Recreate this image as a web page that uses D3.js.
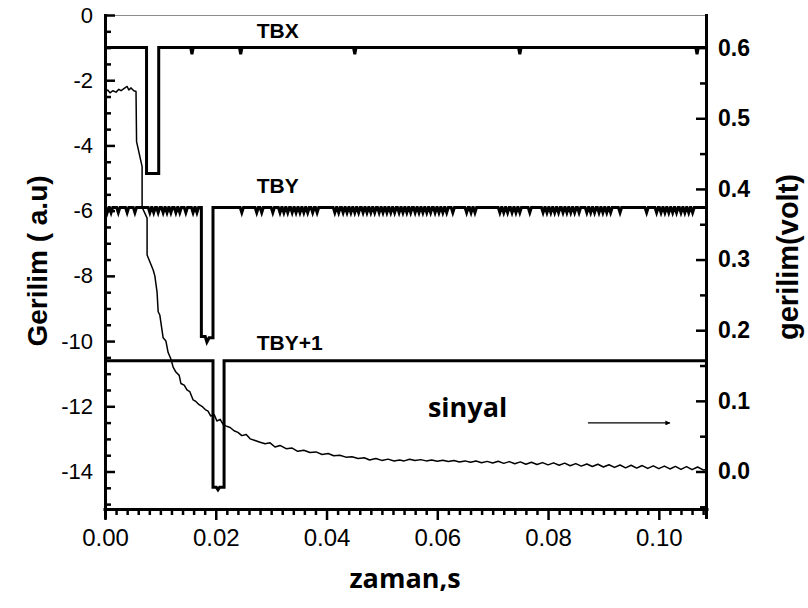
<!DOCTYPE html>
<html>
<head>
<meta charset="utf-8">
<script src="https://cdn.jsdelivr.net/npm/d3@7"></script>
<style>
  html, body { margin: 0; padding: 0; background: #fff; }
  svg { display: block; }
</style>
</head>
<body>
<svg id="chart" width="808" height="608"></svg>
<script>
// ---------------- DATA ----------------
const xTickValues = [0, 0.02, 0.04, 0.06, 0.08, 0.10];
const xTickLabels = ["0.00", "0.02", "0.04", "0.06", "0.08", "0.10"];
const leftTickValues = [0, -2, -4, -6, -8, -10, -12, -14];
const leftTickLabels = ["0", "-2", "-4", "-6", "-8", "-10", "-12", "-14"];
const rightTickValues = [0, 0.1, 0.2, 0.3, 0.4, 0.5, 0.6];
const rightTickLabels = ["0.0", "0.1", "0.2", "0.3", "0.4", "0.5", "0.6"];

// pulse trains (left axis, a.u.)
const tbxLevel = -1;
const tbxPulseT = [0.0075, 0.0097];
const tbxPulseV = [-4.86, -4.86];
const tbxDips = [0.0157, 0.0245, 0.0451, 0.0749, 0.1069];

const tbyLevel = -5.9;
const tbyPulseT = [0.0174, 0.0181, 0.0184, 0.0188, 0.0195];
const tbyPulseV = [-9.86, -9.86, -10.03, -9.9, -9.9];
const tbyDips = [
  0.0004, 0.0011, 0.0024, 0.0040, 0.0054, 0.0081, 0.0088, 0.0096, 0.0105, 0.0112,
  0.0119, 0.0128, 0.0135, 0.0146, 0.0159, 0.0166,
  0.0247, 0.0274, 0.0283, 0.0303, 0.0316, 0.0323, 0.0330, 0.0338, 0.0345, 0.0352,
  0.0359, 0.0366, 0.0375, 0.0383,
  0.0415, 0.0422, 0.0430, 0.0437, 0.0444, 0.0451, 0.0458, 0.0466, 0.0473, 0.0480,
  0.0487, 0.0495, 0.0502, 0.0509, 0.0516, 0.0523, 0.0531, 0.0538, 0.0545, 0.0552,
  0.0560, 0.0567, 0.0574, 0.0581, 0.0588, 0.0596, 0.0603, 0.0610, 0.0617,
  0.0628, 0.0653, 0.0661, 0.0668,
  0.0713, 0.0720, 0.0727, 0.0735, 0.0742, 0.0749, 0.0767,
  0.0791, 0.0798, 0.0805, 0.0812, 0.0819, 0.0827, 0.0834, 0.0841, 0.0848, 0.0856,
  0.0870, 0.0877, 0.0884, 0.0892, 0.0899, 0.0906, 0.0913, 0.0930, 0.0978,
  0.0996, 0.1004, 0.1011, 0.1018, 0.1025, 0.1032, 0.1040, 0.1047, 0.1054, 0.1061
];

const tby1Level = -10.6;
const tby1PulseT = [0.0195, 0.0201, 0.0204, 0.0207, 0.0215];
const tby1PulseV = [-14.48, -14.48, -14.56, -14.48, -14.48];
const tby1Dips = [];

// signal (right axis, volt)
const sigT = [
  0.0000, 0.0005, 0.0009, 0.0014, 0.0020, 0.0025, 0.0029, 0.0034, 0.0040, 0.0043,
  0.0047, 0.0052, 0.0056, 0.0057, 0.0067, 0.0067, 0.0076, 0.0076, 0.0087, 0.0090,
  0.0094, 0.0096, 0.0099, 0.0105, 0.0110, 0.0114, 0.0119, 0.0123, 0.0128, 0.0134,
  0.0137, 0.0143, 0.0148, 0.0153, 0.0159, 0.0164, 0.0170, 0.0175, 0.0181, 0.0186,
  0.0191, 0.0197, 0.0202, 0.0208, 0.0213, 0.0218, 0.0226, 0.0233, 0.0240, 0.0247,
  0.0255, 0.0262, 0.0271, 0.0280, 0.0289, 0.0298, 0.0307, 0.0316, 0.0327, 0.0338,
  0.0348, 0.0359, 0.0370, 0.0381, 0.0392, 0.0403, 0.0413, 0.0424, 0.0435, 0.0446,
  0.0457, 0.0468, 0.0478, 0.0489, 0.0500, 0.0511, 0.0522, 0.0532,
  0.0540, 0.0550, 0.0560, 0.0570, 0.0580, 0.0590, 0.0600, 0.0610, 0.0620, 0.0630,
  0.0640, 0.0650, 0.0660, 0.0670, 0.0680, 0.0690, 0.0700, 0.0710, 0.0720, 0.0730,
  0.0740, 0.0750, 0.0760, 0.0770, 0.0780, 0.0790, 0.0800, 0.0810, 0.0820, 0.0830,
  0.0840, 0.0850, 0.0860, 0.0870, 0.0880, 0.0890, 0.0900, 0.0910, 0.0920, 0.0930,
  0.0940, 0.0950, 0.0960, 0.0970, 0.0980, 0.0990, 0.1000, 0.1010, 0.1020, 0.1030,
  0.1040, 0.1050, 0.1060, 0.1070, 0.1080, 0.1087
];
const sigV = [
  0.5377, 0.5400, 0.5360, 0.5390, 0.5370, 0.5410, 0.5390, 0.5420, 0.5450, 0.5400,
  0.5430, 0.5390, 0.5380, 0.4670, 0.4315, 0.3740, 0.3586, 0.3064, 0.2852, 0.2769,
  0.2538, 0.2261, 0.2215, 0.1892, 0.1846, 0.1684, 0.1592, 0.1477, 0.1408, 0.1361,
  0.1246, 0.1223, 0.1154, 0.1131, 0.1015, 0.0992, 0.0946, 0.0923, 0.0877, 0.0854,
  0.0785, 0.0808, 0.0715, 0.0738, 0.0669, 0.0646, 0.0623, 0.0577, 0.0554, 0.0508,
  0.0525, 0.0462, 0.0438, 0.0415, 0.0392, 0.0406, 0.0346, 0.0369, 0.0323, 0.0332,
  0.0286, 0.0300, 0.0268, 0.0277, 0.0240, 0.0254, 0.0222, 0.0231, 0.0203, 0.0208,
  0.0185, 0.0194, 0.0162, 0.0185, 0.0157, 0.0175, 0.0148, 0.0162,
  0.0150, 0.0172, 0.0155, 0.0168, 0.0150, 0.0163, 0.0146, 0.0160, 0.0140, 0.0155,
  0.0135, 0.0150, 0.0130, 0.0148, 0.0125, 0.0143, 0.0120, 0.0145, 0.0115, 0.0140,
  0.0110, 0.0136, 0.0103, 0.0130, 0.0098, 0.0126, 0.0094, 0.0122, 0.0088, 0.0118,
  0.0082, 0.0112, 0.0076, 0.0106, 0.0070, 0.0102, 0.0064, 0.0096, 0.0058, 0.0092,
  0.0052, 0.0088, 0.0048, 0.0084, 0.0044, 0.0080, 0.0040, 0.0076, 0.0036, 0.0072,
  0.0030, 0.0068, 0.0026, 0.0064, 0.0022, 0.0030
];

// annotations
const seriesLabels = [
  { text: "TBX", t: 0.0274, v: -0.71 },
  { text: "TBY", t: 0.0274, v: -5.46 },
  { text: "TBY+1", t: 0.0274, v: -10.28 }
];
const signalLabel = { text: "sinyal", t: 0.0583, v: -12.33 };
const arrowFrom = { t: 0.0872, v: -12.51 };
const arrowTo = { t: 0.1020, v: -12.51 };

// ---------------- DRAW ----------------
const svg = d3.select("#chart");
const L = 105, R = 707, T = 15, B = 509;

const x = d3.scaleLinear().domain([0, 0.1087]).range([L, R]);
const yL = d3.scaleLinear().domain([-15.15, 0]).range([B, T]);
const yR = d3.scaleLinear().domain([-0.0531, 0.6462]).range([B, T]);

const defs = svg.append("defs");
defs.append("clipPath").attr("id", "plotclip")
  .append("rect").attr("x", L).attr("y", T - 2).attr("width", R - L).attr("height", B - T + 2);

// top frame (thin)
svg.append("line").attr("x1", L).attr("x2", R).attr("y1", T + 0.5).attr("y2", T + 0.5)
  .attr("stroke", "#8c8c8c").attr("stroke-width", 1.2);

function buildSeries(level, pulseT, pulseV, dips, depth, hw, tEnd) {
  const events = [];
  dips.forEach(d => events.push({ t: d, type: "dip" }));
  events.push({ t: pulseT[0], type: "pulse" });
  events.sort((a, b) => a.t - b.t);
  const pts = [[0, level]];
  events.forEach(e => {
    if (e.type === "dip") {
      pts.push([e.t - hw, level], [e.t, level - depth], [e.t + hw, level]);
    } else {
      pts.push([pulseT[0], level]);
      pulseT.forEach((t, i) => pts.push([t, pulseV[i]]));
      pts.push([pulseT[pulseT.length - 1], level]);
    }
  });
  pts.push([tEnd, level]);
  return pts;
}

const lineL = d3.line().x(d => x(d[0])).y(d => yL(d[1]));
const plot = svg.append("g").attr("clip-path", "url(#plotclip)");

const tEnd = x.domain()[1];
[
  buildSeries(tbxLevel, tbxPulseT, tbxPulseV, tbxDips, 0.2, 0.00022, tEnd),
  buildSeries(tbyLevel, tbyPulseT, tbyPulseV, tbyDips, 0.16, 0.0003, tEnd),
  buildSeries(tby1Level, tby1PulseT, tby1PulseV, tby1Dips, 0.2, 0.00025, tEnd)
].forEach(pts => {
  plot.append("path").attr("d", lineL(pts)).attr("fill", "none")
    .attr("stroke", "#000").attr("stroke-width", 3).attr("stroke-linejoin", "miter");
});

const sigLine = d3.line().x((d, i) => x(sigT[i])).y(d => yR(d));
plot.append("path").attr("d", sigLine(sigV)).attr("fill", "none")
  .attr("stroke", "#000").attr("stroke-width", 1.5).attr("stroke-linejoin", "round");

// ---------------- AXES ----------------
const fontArial = "'Liberation Sans', Arial, sans-serif";

// x axis
const xMinor = d3.range(0, 0.1087, 0.002).filter(v => Math.abs(v / 0.02 - Math.round(v / 0.02)) > 1e-6);
const gxMinor = svg.append("g").attr("transform", `translate(0,${B})`)
  .call(d3.axisBottom(x).tickValues(xMinor).tickSize(6).tickSizeOuter(0).tickFormat(""));
gxMinor.select(".domain").remove();
const gx = svg.append("g").attr("transform", `translate(0,${B})`)
  .call(d3.axisBottom(x).tickValues(xTickValues).tickSize(11).tickSizeOuter(0).tickPadding(9)
    .tickFormat((d, i) => xTickLabels[i]));
gx.select(".domain").attr("stroke-width", 3).attr("d", `M${L - 1.5},0.5H${R + 1.5}`);
gx.selectAll("text").attr("font-family", fontArial).attr("font-size", 24).attr("fill", "#000");

// left axis
const lMinor = d3.range(0, -15.1, -0.5).filter(v => Math.abs(v / 2 - Math.round(v / 2)) > 1e-6);
const glMinor = svg.append("g").attr("transform", `translate(${L},0)`)
  .call(d3.axisLeft(yL).tickValues(lMinor).tickSize(-6).tickSizeOuter(0).tickFormat(""));
glMinor.select(".domain").remove();
const gl = svg.append("g").attr("transform", `translate(${L},0)`)
  .call(d3.axisLeft(yL).tickValues(leftTickValues).tickSize(-10).tickSizeOuter(0).tickPadding(12)
    .tickFormat((d, i) => leftTickLabels[i]));
gl.select(".domain").attr("stroke-width", 3).attr("d", `M0.5,${T - 1}V${B + 10}`);
gl.selectAll("text").attr("font-family", fontArial).attr("font-size", 22).attr("fill", "#000");

// right axis
const rMinor = d3.range(-0.05, 0.64, 0.05).filter(v => Math.abs(v / 0.1 - Math.round(v / 0.1)) > 1e-6);
const grMinor = svg.append("g").attr("transform", `translate(${R},0)`)
  .call(d3.axisRight(yR).tickValues(rMinor).tickSize(-7).tickSizeOuter(0).tickFormat(""));
grMinor.select(".domain").remove();
const gr = svg.append("g").attr("transform", `translate(${R},0)`)
  .call(d3.axisRight(yR).tickValues(rightTickValues).tickSize(-11).tickSizeOuter(0).tickPadding(11)
    .tickFormat((d, i) => rightTickLabels[i]));
gr.select(".domain").attr("stroke-width", 3).attr("d", `M-0.5,${T - 1}V${B + 10}`);
gr.selectAll("text").attr("font-family", fontArial).attr("font-size", 23)
  .attr("font-weight", "bold").attr("fill", "#000");

svg.selectAll(".tick line").attr("stroke-width", 2.5).attr("stroke", "#000");

// ---------------- TITLES & LABELS ----------------
svg.append("text").attr("x", 405).attr("y", 588).attr("text-anchor", "middle")
  .attr("font-family", "'Open Sans', sans-serif").attr("font-weight", "bold").attr("font-size", 27)
  .text("zaman,s");

svg.append("text").attr("transform", "translate(47,261) rotate(-90)").attr("text-anchor", "middle")
  .attr("font-family", fontArial).attr("font-weight", "bold").attr("font-size", 28)
  .text("Gerilim ( a.u)");

svg.append("text").attr("transform", "translate(798,257) rotate(-90)").attr("text-anchor", "middle")
  .attr("font-family", fontArial).attr("font-weight", "bold").attr("font-size", 29)
  .text("gerilim(volt)");

svg.selectAll(".slabel").data(seriesLabels).enter().append("text")
  .attr("x", d => x(d.t)).attr("y", d => yL(d.v))
  .attr("font-family", fontArial).attr("font-weight", "bold").attr("font-size", 21)
  .text(d => d.text);

svg.append("text").attr("x", x(signalLabel.t)).attr("y", yL(signalLabel.v))
  .attr("font-family", "'Open Sans', sans-serif").attr("font-weight", "bold").attr("font-size", 27)
  .text(signalLabel.text);

defs.append("marker").attr("id", "arrowhead")
  .attr("viewBox", "0 0 10 10").attr("refX", 9).attr("refY", 5)
  .attr("markerWidth", 7).attr("markerHeight", 5).attr("markerUnits", "userSpaceOnUse")
  .attr("orient", "auto")
  .append("path").attr("d", "M0,0L10,5L0,10Z").attr("fill", "#000");

svg.append("line")
  .attr("x1", x(arrowFrom.t)).attr("y1", yL(arrowFrom.v))
  .attr("x2", x(arrowTo.t)).attr("y2", yL(arrowTo.v))
  .attr("stroke", "#000").attr("stroke-width", 1.3).attr("marker-end", "url(#arrowhead)");
</script>
</body>
</html>
